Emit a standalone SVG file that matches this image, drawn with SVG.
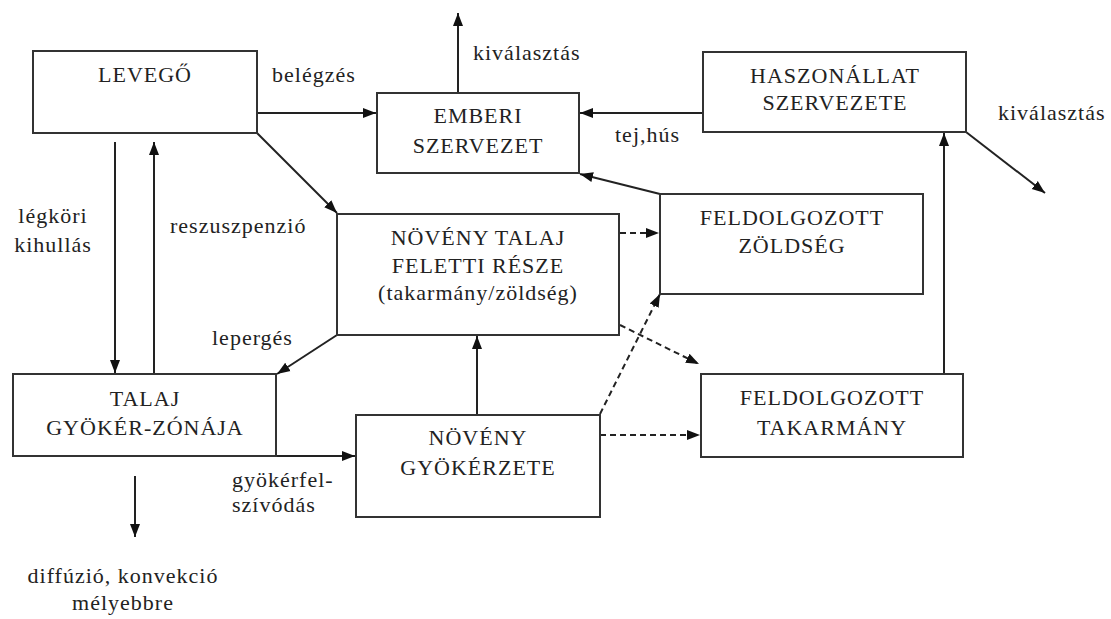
<svg xmlns="http://www.w3.org/2000/svg" width="1111" height="619" viewBox="0 0 1111 619" font-family="Liberation Serif, DejaVu Serif, Times New Roman, serif">
<defs>
<style>
.box{fill:#fff;stroke:#333;stroke-width:2}
.t{font-size:22px;letter-spacing:1px;fill:#222}
.c{text-anchor:middle}
.ln{fill:none;stroke:#222;stroke-width:2;marker-end:url(#ah)}
.dl{fill:none;stroke:#222;stroke-width:2;stroke-dasharray:6 4;marker-end:url(#ah)}
</style>
<marker id="ah" markerUnits="userSpaceOnUse" markerWidth="14" markerHeight="12" refX="13" refY="5" orient="auto" viewBox="0 0 14 10">
<path d="M0,0 L13,5 L0,10 Z" fill="#111"/>
</marker>
</defs>
<rect width="1111" height="619" fill="#fff"/>

<g id="connectors">
<line class="ln" x1="257" y1="113" x2="376" y2="113"/>
<line class="ln" x1="458" y1="93" x2="458" y2="13"/>
<line class="ln" x1="703" y1="113" x2="580" y2="113"/>
<line class="ln" x1="660" y1="194" x2="580" y2="174"/>
<line class="ln" x1="966" y1="132" x2="1045" y2="193"/>
<line class="ln" x1="944" y1="374" x2="944" y2="133"/>
<line class="ln" x1="257" y1="133" x2="337" y2="213"/>
<line class="ln" x1="115" y1="142" x2="115" y2="373"/>
<line class="ln" x1="154" y1="374" x2="154" y2="142"/>
<line class="ln" x1="337" y1="335" x2="277" y2="374"/>
<line class="ln" x1="276" y1="456" x2="355" y2="456"/>
<line class="ln" x1="135" y1="476" x2="135" y2="537"/>
<line class="ln" x1="477" y1="415" x2="477" y2="336"/>
<line class="dl" x1="620" y1="233" x2="659" y2="233"/>
<line class="dl" x1="620" y1="325" x2="699" y2="364"/>
<line class="dl" x1="600" y1="414" x2="660" y2="294"/>
<line class="dl" x1="600" y1="435" x2="700" y2="435"/>
</g>

<g id="levego">
<rect class="box" x="33" y="51" width="224" height="82"/>
<text class="t c" x="145" y="82" font-family="Liberation Serif, serif">LEVEGŐ</text>
</g>
<g id="emberi">
<rect class="box" x="377" y="93" width="202" height="80"/>
<text class="t c" x="478" y="123">EMBERI</text>
<text class="t c" x="478" y="153">SZERVEZET</text>
</g>
<g id="haszonallat">
<rect class="box" x="703" y="52" width="263" height="80"/>
<text class="t c" x="835" y="83">HASZONÁLLAT</text>
<text class="t c" x="835" y="110">SZERVEZETE</text>
</g>
<g id="feldolgozott-zoldseg">
<rect class="box" x="660" y="194" width="263" height="100"/>
<text class="t c" x="792" y="225">FELDOLGOZOTT</text>
<text class="t c" x="792" y="253">ZÖLDSÉG</text>
</g>
<g id="noveny-talaj-feletti">
<rect class="box" x="337" y="214" width="282" height="121"/>
<text class="t c" x="478" y="245">NÖVÉNY TALAJ</text>
<text class="t c" x="478" y="273">FELETTI RÉSZE</text>
<text class="t c" x="478" y="300">(takarmány/zöldség)</text>
</g>
<g id="feldolgozott-takarmany">
<rect class="box" x="701" y="374" width="262" height="83"/>
<text class="t c" x="832" y="405">FELDOLGOZOTT</text>
<text class="t c" x="832" y="435">TAKARMÁNY</text>
</g>
<g id="talaj">
<rect class="box" x="13" y="374" width="263" height="82"/>
<text class="t c" x="145" y="406">TALAJ</text>
<text class="t c" x="145" y="435">GYÖKÉR-ZÓNÁJA</text>
</g>
<g id="noveny-gyokerzete">
<rect class="box" x="356" y="415" width="244" height="102"/>
<text class="t c" x="478" y="445">NÖVÉNY</text>
<text class="t c" x="478" y="475">GYÖKÉRZETE</text>
</g>

<g id="labels">
<text class="t" x="272" y="82">belégzés</text>
<text class="t" x="473" y="60">kiválasztás</text>
<text class="t" x="615" y="142">tej,hús</text>
<text class="t" x="998" y="120">kiválasztás</text>
<text class="t c" x="53" y="223">légköri</text>
<text class="t c" x="53" y="252">kihullás</text>
<text class="t" x="170" y="233">reszuszpenzió</text>
<text class="t" x="212" y="345">lepergés</text>
<text class="t" x="232" y="487">gyökérfel-</text>
<text class="t" x="232" y="512">szívódás</text>
<text class="t c" x="123" y="583">diffúzió, konvekció</text>
<text class="t c" x="123" y="610">mélyebbre</text>
</g>
</svg>
